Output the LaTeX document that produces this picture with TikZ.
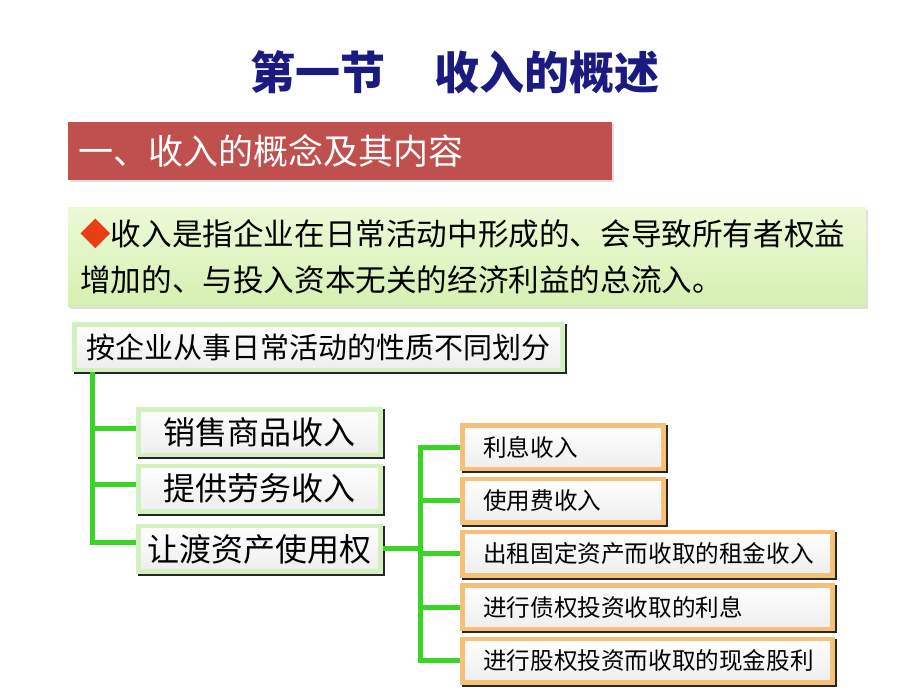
\documentclass[tikz,border=0pt]{standalone}
\usepackage{fontspec}
\setmainfont{Noto Sans CJK SC}
\usepackage{xcolor}
\usetikzlibrary{positioning, shadows}

\definecolor{titleblue}{RGB}{26,26,128}
\definecolor{barred}{RGB}{192,80,77}
\definecolor{notetop}{RGB}{236,250,214}
\definecolor{notebottom}{RGB}{214,240,178}
\definecolor{framegreen}{RGB}{210,240,192}
\definecolor{frameorange}{RGB}{246,192,118}
\definecolor{linkgreen}{RGB}{58,212,38}
\definecolor{markred}{RGB}{232,62,22}

\begin{document}
\begin{tikzpicture}[x=1pt, y=1pt,
    inset/.style={path picture={\shade[top color=white, bottom color=black!7]
        ([shift={(5pt,-5pt)}]path picture bounding box.north west) rectangle
        ([shift={(-5pt,5pt)}]path picture bounding box.south east);}},
    edge shadow/.style={general shadow={fill=black!85, shadow xshift=2pt, shadow yshift=-2pt}},
    kindbox/.style={fill=framegreen, inset, edge shadow, inner sep=0pt,
        minimum width=247pt, minimum height=50pt, font=\fontsize{32}{32}\selectfont},
    waybox/.style={fill=frameorange, inset, edge shadow, inner xsep=23pt, inner ysep=0pt,
        text width=#1, align=left, minimum height=48pt, font=\fontsize{23.6}{23.6}\selectfont},
    link/.style={draw=linkgreen, line width=5pt}]

    \useasboundingbox (0,0) rectangle (920,690);

    % heading and banner
    \node[text=titleblue, font=\fontsize{45}{45}\selectfont\bfseries] (title) at (455,618)
        {第一节\hspace{1.1em}收入的概述};

    \node[anchor=north west, fill=barred, drop shadow={opacity=0.25, shadow xshift=2pt, shadow yshift=-2pt},
        minimum width=544pt, minimum height=58pt, inner xsep=10pt, text width=524pt, align=left,
        text=white, font=\fontsize{35}{35}\selectfont] (bar) at (68,568) {一、收入的概念及其内容};

    \node[anchor=north west, top color=notetop, bottom color=notebottom,
        drop shadow={opacity=0.25, shadow xshift=2pt, shadow yshift=-3pt},
        minimum width=798pt, minimum height=99pt, inner xsep=12pt, text width=774pt, align=left,
        font=\fontsize{30.6}{46}\selectfont] (note) at (68,483)
        {{\color{markred}◆}收入是指企业在日常活动中形成的、会导致所有者权益\\增加的、与投入资本无关的经济利益的总流入。};

    % classification tree
    \node[kindbox, anchor=north west, minimum width=493pt, font=\fontsize{29}{29}\selectfont] (head) at (72,368)
        {按企业从事日常活动的性质不同划分};

    \node[kindbox, anchor=north west] (s1) at (136,283) {销售商品收入};
    \node[kindbox, below=6pt of s1] (s2) {提供劳务收入};
    \node[kindbox, below=10pt of s2] (s3) {让渡资产使用权};

    \node[waybox=160pt, anchor=north west] (o1) at (460,267) {利息收入};
    \node[waybox=160pt, below=5pt of o1] (o2) {使用费收入};
    \node[waybox=329pt, below=5pt of o2.south west, anchor=north west] (o3) {出租固定资产而收取的租金收入};
    \node[waybox=329pt, below=5pt of o3] (o4) {进行债权投资收取的利息};
    \node[waybox=329pt, below=5pt of o4] (o5) {进行股权投资而收取的现金股利};

    \coordinate (spine) at ([xshift=20pt]head.south west);
    \coordinate (fork) at ([xshift=-40pt]o3.west);

    \draw[link] (spine) |- ([yshift=6pt]s3.west);
    \foreach \k in {s1,s2}
        \draw[link] ([yshift=4pt]spine |- \k.west) -- ([yshift=4pt]\k.west);

    \draw[link] (o1.west) -| (fork) |- (o5.west);
    \foreach \k in {o2,o3,o4}
        \draw[link] (fork |- \k.west) -- (\k.west);
    \draw[link] (s3.east) -- (s3.east -| fork);

\end{tikzpicture}
\end{document}
